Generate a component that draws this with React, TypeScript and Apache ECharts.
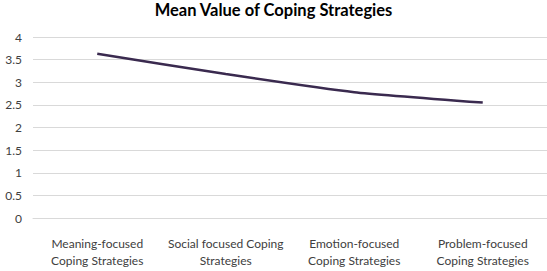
import React, { useEffect, useRef } from "react";
import * as echarts from "echarts";

const categories = [
  "Meaning-focused\nCoping Strategies",
  "Social focused Coping\nStrategies",
  "Emotion-focused\nCoping Strategies",
  "Problem-focused\nCoping Strategies",
];
const meanValues = [3.63, 3.18, 2.78, 2.55];
const titleText = "Mean Value of Coping Strategies";

export default function App() {
  const ref = useRef<HTMLDivElement>(null);
  useEffect(() => {
    if (!ref.current) return;
    const chart = echarts.init(ref.current, undefined, { renderer: "svg" });
    chart.setOption({
      animation: false,
      backgroundColor: "#ffffff",
      title: {
        text: titleText,
        left: "center",
        top: 1,
        padding: 0,
        textStyle: { fontFamily: "Lato", fontWeight: "bold", fontSize: 16.5, color: "#000000" },
      },
      grid: { left: 33, right: -1, top: 37, bottom: 53, containLabel: false },
      xAxis: {
        type: "category",
        data: categories,
        boundaryGap: true,
        axisLine: { show: true, lineStyle: { color: "#d9d9d9", width: 1 } },
        axisTick: { show: false },
        axisLabel: {
          interval: 0,
          margin: 17,
          fontFamily: "Lato",
          fontSize: 12,
          lineHeight: 17,
          color: "#404040",
        },
      },
      yAxis: {
        type: "value",
        min: 0,
        max: 4,
        interval: 0.5,
        axisLine: { show: false },
        axisTick: { show: false },
        splitLine: { show: true, lineStyle: { color: "#d9d9d9", width: 1 } },
        axisLabel: { margin: 11, fontFamily: "Lato", fontSize: 12, color: "#404040" },
      },
      series: [
        {
          type: "line",
          data: meanValues,
          smooth: 0.15,
          symbol: "none",
          lineStyle: { color: "#3a2a4f", width: 2.5 },
        },
      ],
    });
    return () => chart.dispose();
  }, []);
  return (
    <div
      ref={ref}
      style={{ position: "absolute", left: 0, top: 0, width: 547, height: 271 }}
    />
  );
}
